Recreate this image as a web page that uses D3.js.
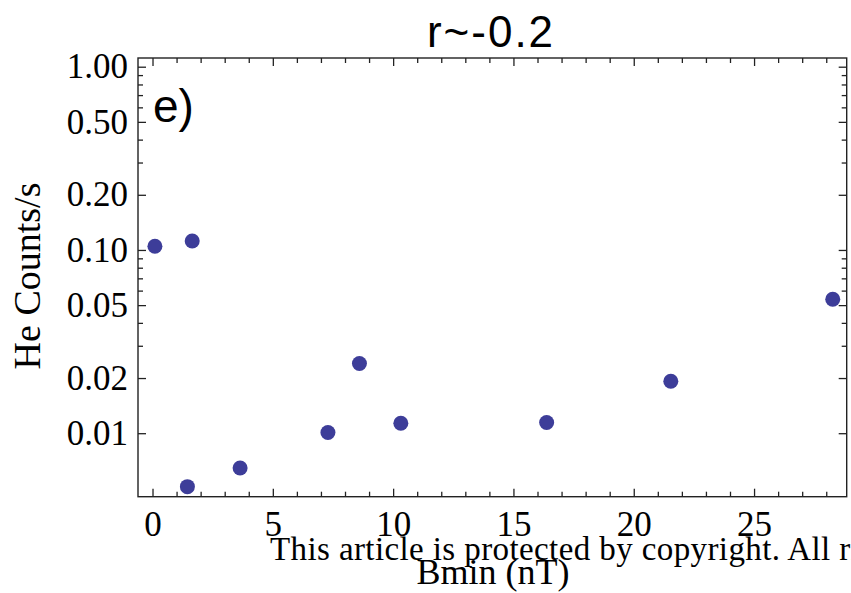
<!DOCTYPE html>
<html lang="en">
<head>
    <meta charset="UTF-8">
    <title>He Counts vs Bmin</title>
    <script src="https://d3js.org/d3.v7.min.js"></script>
    <style>
        body { margin: 0; background: #fff; }
        svg { display: block; background: #fff; }
    </style>
</head>
<body>
<svg width="851" height="593"></svg>
<script>
    // values
    const bmin = [0.10, 1.65, 1.45, 3.64, 7.29, 8.60, 10.32, 16.38, 21.54, 28.27];
    const heCounts = [0.1047, 0.1120, 0.00511, 0.00646, 0.01008, 0.0240, 0.01134, 0.01143, 0.0192, 0.0538];

    const xMajor = [0, 5, 10, 15, 20, 25];
    const xMinor = d3.range(0, 29).filter(v => v % 5 !== 0);
    const yMajor = [1.00, 0.50, 0.20, 0.10, 0.05, 0.02, 0.01];
    const yMajorLabels = ["1.00", "0.50", "0.20", "0.10", "0.05", "0.02", "0.01"];
    const yMinor = [0.9, 0.8, 0.7, 0.6, 0.4, 0.3, 0.09, 0.08, 0.07, 0.06, 0.04, 0.03];

    const plotL = 138, plotR = 846.7, plotT = 58, plotB = 496.7;

    const svg = d3.select("svg");

    const x = d3.scaleLinear().domain([-0.603, 28.85]).range([plotL, plotR]);
    const y = d3.scaleLog().domain([0.004503, 1.1156]).range([plotB, plotT]);

    const serif = "'Liberation Serif', 'Times New Roman', serif";
    const sans = "'Liberation Sans', Arial, sans-serif";

    // frame
    svg.append("rect")
        .attr("x", plotL).attr("y", plotT)
        .attr("width", plotR - plotL).attr("height", plotB - plotT)
        .attr("fill", "none")
        .attr("stroke", "#222")
        .attr("stroke-width", 1.4);

    function styleAxis(g) {
        g.select(".domain").remove();
        g.selectAll(".tick line").attr("stroke", "#222").attr("stroke-width", 1.3);
        g.selectAll(".tick text").attr("fill", "#000").style("font-family", serif).style("font-size", "35px");
    }

    // bottom axis
    svg.append("g").attr("transform", `translate(0,${plotB})`)
        .call(d3.axisBottom(x).tickValues(xMajor).tickSizeInner(-8).tickSizeOuter(0).tickPadding(14))
        .call(styleAxis);
    svg.append("g").attr("transform", `translate(0,${plotB})`)
        .call(d3.axisBottom(x).tickValues(xMinor).tickSizeInner(-5).tickSizeOuter(0).tickFormat(""))
        .call(styleAxis);
    // top axis (ticks only)
    svg.append("g").attr("transform", `translate(0,${plotT})`)
        .call(d3.axisTop(x).tickValues(xMajor).tickSizeInner(-8).tickSizeOuter(0).tickFormat(""))
        .call(styleAxis);
    svg.append("g").attr("transform", `translate(0,${plotT})`)
        .call(d3.axisTop(x).tickValues(xMinor).tickSizeInner(-5).tickSizeOuter(0).tickFormat(""))
        .call(styleAxis);

    // left axis
    svg.append("g").attr("transform", `translate(${plotL},0)`)
        .call(d3.axisLeft(y).tickValues(yMajor).tickSizeInner(-8).tickSizeOuter(0).tickPadding(10)
            .tickFormat((d, i) => yMajorLabels[i]))
        .call(styleAxis);
    svg.append("g").attr("transform", `translate(${plotL},0)`)
        .call(d3.axisLeft(y).tickValues(yMinor).tickSizeInner(-5).tickSizeOuter(0).tickFormat(""))
        .call(styleAxis);
    // right axis (ticks only)
    svg.append("g").attr("transform", `translate(${plotR},0)`)
        .call(d3.axisRight(y).tickValues(yMajor).tickSizeInner(-8).tickSizeOuter(0).tickFormat(""))
        .call(styleAxis);
    svg.append("g").attr("transform", `translate(${plotR},0)`)
        .call(d3.axisRight(y).tickValues(yMinor).tickSizeInner(-5).tickSizeOuter(0).tickFormat(""))
        .call(styleAxis);

    // points
    svg.append("g").selectAll("circle")
        .data(bmin.map((b, i) => ({ b: b, c: heCounts[i] })))
        .enter()
        .append("circle")
        .attr("cx", d => x(d.b))
        .attr("cy", d => y(d.c))
        .attr("r", 7.5)
        .attr("fill", "#3d3d99");

    // title and panel label
    svg.append("text")
        .attr("x", 491).attr("y", 47)
        .attr("text-anchor", "middle")
        .style("font-family", sans).style("font-size", "44px")
        .style("letter-spacing", "2px")
        .text("r~-0.2");

    svg.append("text")
        .attr("x", 153).attr("y", 122)
        .style("font-family", sans).style("font-size", "46px")
        .text("e)");

    // axis titles
    svg.append("text")
        .attr("transform", "translate(40,276) rotate(-90)")
        .attr("text-anchor", "middle")
        .style("font-family", serif).style("font-size", "38px")
        .text("He Counts/s");

    // watermark
    svg.append("text")
        .attr("x", 270).attr("y", 560)
        .style("font-family", serif).style("font-size", "33px")
        .style("letter-spacing", "0.4px")
        .text("This article is protected by copyright. All rights reserved.");

    svg.append("text")
        .attr("x", 493).attr("y", 584)
        .attr("text-anchor", "middle")
        .style("font-family", serif).style("font-size", "36px")
        .text("Bmin (nT)");
</script>
</body>
</html>
